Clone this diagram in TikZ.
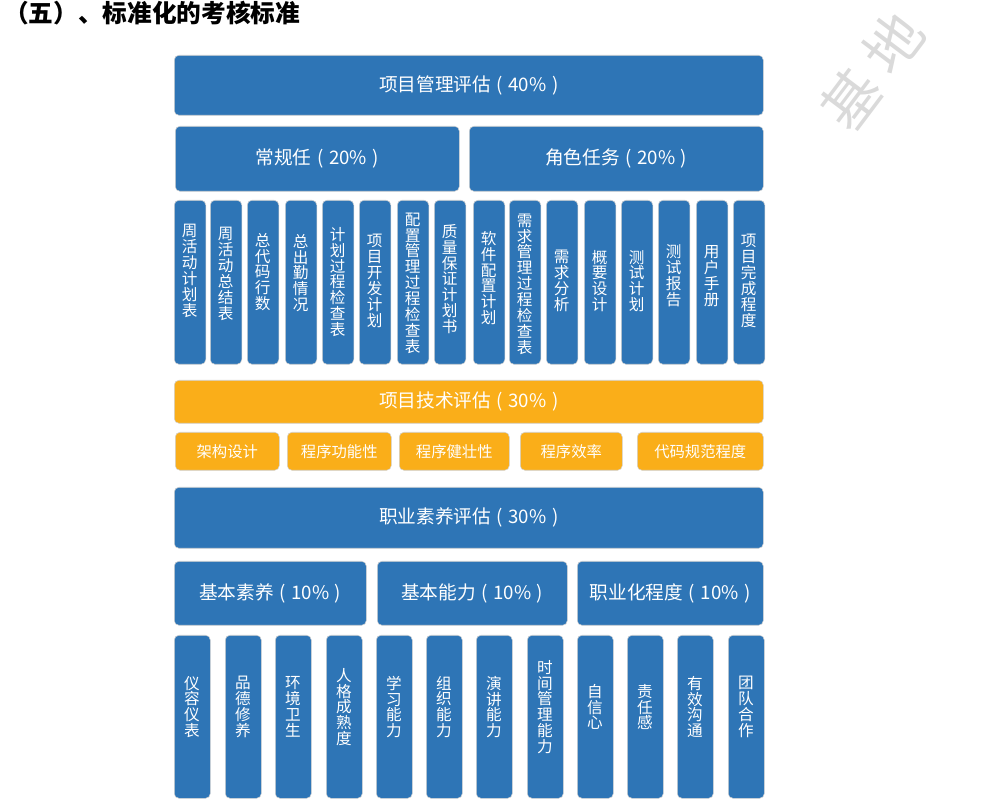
\documentclass[tikz,border=0pt]{standalone}
\usepackage{fontspec}
\newfontfamily\cjk{Noto Sans CJK SC}
\definecolor{blu}{HTML}{2E75B6}
\definecolor{org}{HTML}{FAAE19}
\definecolor{wmk}{HTML}{DADADA}
\newcommand\bx[7]{%
  \node[#2, anchor=north west, minimum width={(#5-#3)*0.75pt}, minimum height={(#6-#4)*0.75pt}] (#1) at (#3,#4) {#7};}
\newcommand\pct[1]{\hspace{0.3em}(\hspace{0.3em}#1\%\hspace{0.3em})}
\begin{document}
\begin{tikzpicture}[x=0.75pt,y=-0.75pt,
  box/.style={rounded corners=3.5pt, draw=black!18, line width=0.4pt, inner sep=0pt, text=white},
  bbox/.style={box, fill=blu, font=\cjk\fontsize{14}{16}\selectfont},
  obig/.style={box, fill=org, font=\cjk\fontsize{14}{16}\selectfont},
  osmall/.style={box, fill=org, font=\cjk\fontsize{11.5}{14}\selectfont},
  vbox/.style={box, fill=blu},
  vtxt/.style={text=white, align=center, inner sep=0pt, font=\cjk\fontsize{11.7}{11.9}\selectfont},
  wm/.style={text=wmk, rotate=53, inner sep=0pt, font=\cjk\fontsize{43}{43}\selectfont}
]
\useasboundingbox (0,0) rectangle (990,805);
% watermark
\node[wm] (wm1) at (872,71) {基\hspace{10pt}地};
% title
\node[anchor=west, inner sep=0pt, font=\cjk\bfseries\fontsize{18.5}{21}\selectfont] (title) at (4,13) {（五）、标准化的考核标准};
% project management
\bx{pm}{bbox}{174}{55}{763}{115}{项目管理评估\pct{40}}
\bx{cg}{bbox}{175}{126}{459}{191}{常规任\pct{20}}
\bx{js}{bbox}{469}{126}{763}{191}{角色任务\pct{20}}
\foreach \i/\x/\t/\c in {
 1/174/周\\活\\动\\计\\划\\表/271,
 2/210/周\\活\\动\\总\\结\\表/274,
 3/247/总\\代\\码\\行\\数/272,
 4/285/总\\出\\勤\\情\\况/273,
 5/322/计\\划\\过\\程\\检\\查\\表/282,
 6/359/项\\目\\开\\发\\计\\划/281,
 7/397/配\\置\\管\\理\\过\\程\\检\\查\\表/283,
 8/434/质\\量\\保\\证\\计\\划\\书/279,
 9/473/软\\件\\配\\置\\计\\划/278,
 10/509/需\\求\\管\\理\\过\\程\\检\\查\\表/284,
 11/546/需\\求\\分\\析/281,
 12/584/概\\要\\设\\计/281,
 13/621/测\\试\\计\\划/281,
 14/658/测\\试\\报\\告/276,
 15/696/用\\户\\手\\册/276,
 16/733/项\\目\\完\\成\\程\\度/281}{
  \bx{t\i}{vbox}{\x}{200}{\x+31.5}{364}{}
  \node[vtxt] (tt\i) at (\x+15.75,\c) {\t};
}
% technical
\bx{tech}{obig}{174}{380}{763}{423}{项目技术评估\pct{30}}
\bx{o1}{osmall}{175}{432}{279}{470}{架构设计}
\bx{o2}{osmall}{287}{432}{391}{470}{程序功能性}
\bx{o3}{osmall}{399}{432}{509}{470}{程序健壮性}
\bx{o4}{osmall}{520}{432}{622}{470}{程序效率}
\bx{o5}{osmall}{637}{432}{763}{470}{代码规范程度}
% professional
\bx{pro}{bbox}{174}{487}{763}{548}{职业素养评估\pct{30}}
\bx{p1}{bbox}{174}{561}{366}{625}{基本素养\pct{10}}
\bx{p2}{bbox}{377}{561}{567}{625}{基本能力\pct{10}}
\bx{p3}{bbox}{577}{561}{763}{625}{职业化程度\pct{10}}
\foreach \i/\x/\t in {
 1/174/仪\\容\\仪\\表,
 2/225/品\\德\\修\\养,
 3/275/环\\境\\卫\\生,
 4/326/人\\格\\成\\熟\\度,
 5/376/学\\习\\能\\力,
 6/426/组\\织\\能\\力,
 7/476/演\\讲\\能\\力,
 8/527/时\\间\\管\\理\\能\\力,
 9/577/自\\信\\心,
 10/627/责\\任\\感,
 11/677/有\\效\\沟\\通,
 12/728/团\\队\\合\\作}{
  \bx{b\i}{vbox}{\x}{635}{\x+36}{798}{}
  \node[vtxt] (bt\i) at (\x+18,707) {\t};
}
\end{tikzpicture}
\end{document}
